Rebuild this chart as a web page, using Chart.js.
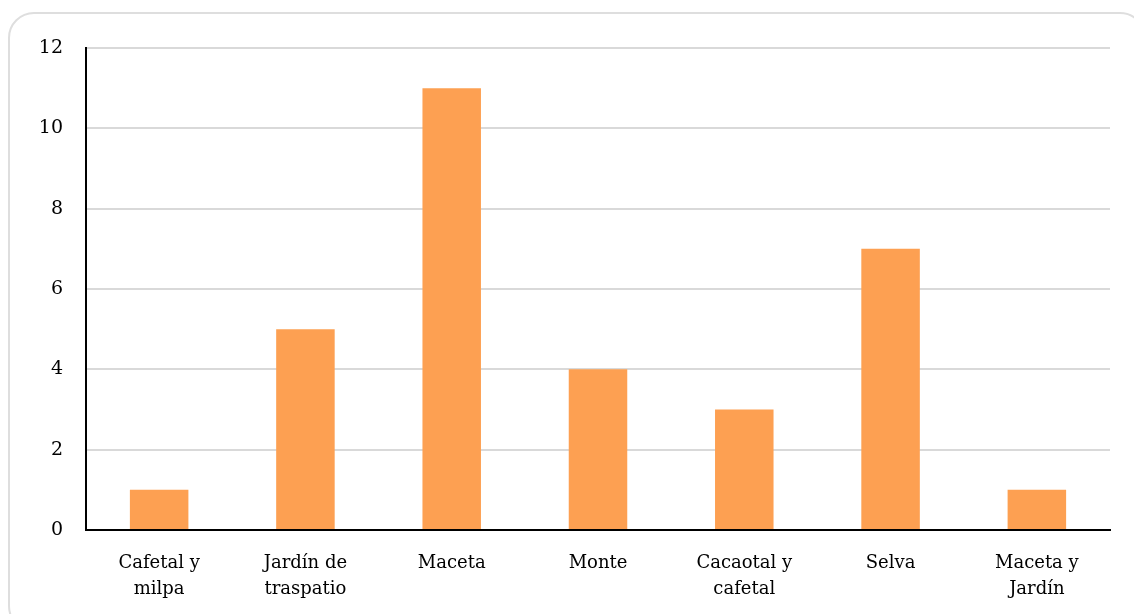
<!DOCTYPE html>
<html>
<head>
<meta charset="utf-8">
<script src="https://cdn.jsdelivr.net/npm/chart.js@4"></script>
<style>
  html, body { margin: 0; padding: 0; background: #fff; overflow: hidden; }
  #wrap { position: relative; width: 1134px; height: 614px; overflow: hidden; }
  #frame {
    position: absolute; left: 8px; top: 12px; width: 1138px; height: 620px;
    border: 2px solid #dedede; border-radius: 26px; box-sizing: border-box;
  }
  canvas { position: absolute; left: 0; top: 0; }
</style>
</head>
<body>
<div id="wrap">
  <div id="frame"></div>
  <canvas id="barChart" width="1134" height="614"></canvas>
</div>
<script>
// categories and values
var categories = [
    ['Cafetal y', 'milpa'],
    ['Jardín de', 'traspatio'],
    'Maceta',
    'Monte',
    ['Cacaotal y', 'cafetal'],
    'Selva',
    ['Maceta y', 'Jardín']
];
var counts = [1, 5, 11, 4, 3, 7, 1];
var yTicks = [0, 2, 4, 6, 8, 10, 12];

var serif = "'DejaVu Serif', 'Liberation Serif', serif";

var ctx = document.getElementById('barChart').getContext('2d');
var chart = new Chart(ctx, {
    type: 'bar',
    data: {
        labels: categories,
        datasets: [{
            data: counts,
            backgroundColor: '#FDA052',
            borderWidth: 0,
            categoryPercentage: 1,
            barPercentage: 0.4
        }]
    },
    options: {
        responsive: false,
        animation: false,
        layout: { padding: { top: 48, right: 24, left: 0, bottom: 0 } },
        plugins: { legend: { display: false }, tooltip: { enabled: false } },
        scales: {
            x: {
                grid: { display: false, drawTicks: false },
                border: { display: true, color: '#000', width: 2 },
                ticks: {
                    color: '#000',
                    padding: 21,
                    maxRotation: 0,
                    autoSkip: false,
                    font: { family: serif, size: 18, lineHeight: 1.42 }
                },
                afterFit: function (s) { s.height = 84; }
            },
            y: {
                min: 0,
                max: 12,
                afterBuildTicks: function (s) {
                    s.ticks = yTicks.map(function (v) { return { value: v }; });
                },
                grid: { color: '#d9d9d9', lineWidth: 2, drawTicks: false },
                border: { display: true, color: '#000', width: 2 },
                ticks: {
                    color: '#000',
                    padding: 23,
                    font: { family: serif, size: 19 }
                },
                afterFit: function (s) { s.width = 86; }
            }
        }
    }
});
</script>
</body>
</html>
